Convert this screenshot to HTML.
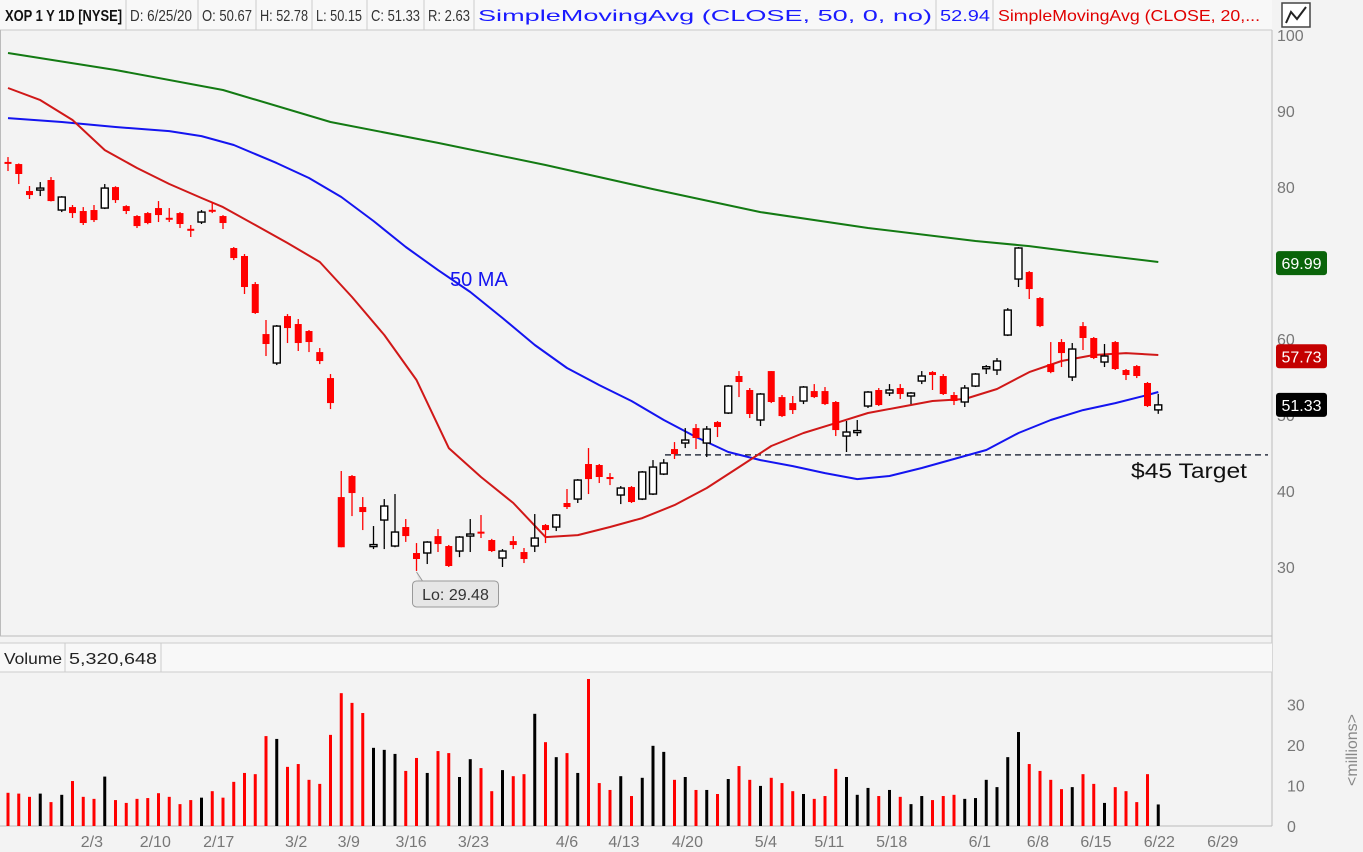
<!DOCTYPE html>
<html><head><meta charset="utf-8"><style>
body{margin:0;width:1363px;height:852px;overflow:hidden;background:#f3f3f3;font-family:"Liberation Sans",sans-serif}
svg{position:absolute;left:0;top:0}
</style></head><body>
<svg id="c" width="1363" height="852" font-family="Liberation Sans, sans-serif">
<rect x="0" y="0" width="1363" height="852" fill="#f3f3f3"/>
<g>
<rect x="0" y="0" width="1272" height="30" fill="#f8f8f8"/>
<line x1="0" y1="30" x2="1272" y2="30" stroke="#c8c8c8"/>
<text x="5" y="21" font-size="16" font-weight="bold" fill="#111" textLength="117" lengthAdjust="spacingAndGlyphs">XOP 1 Y 1D [NYSE]</text>
<line x1="126" y1="0" x2="126" y2="30" stroke="#ccc"/>
<text x="130" y="21" font-size="16" fill="#333" textLength="62" lengthAdjust="spacingAndGlyphs">D: 6/25/20</text>
<line x1="198" y1="0" x2="198" y2="30" stroke="#ccc"/>
<text x="202" y="21" font-size="16" fill="#333" textLength="50" lengthAdjust="spacingAndGlyphs">O: 50.67</text>
<line x1="256" y1="0" x2="256" y2="30" stroke="#ccc"/>
<text x="260" y="21" font-size="16" fill="#333" textLength="48" lengthAdjust="spacingAndGlyphs">H: 52.78</text>
<line x1="312" y1="0" x2="312" y2="30" stroke="#ccc"/>
<text x="316" y="21" font-size="16" fill="#333" textLength="46" lengthAdjust="spacingAndGlyphs">L: 50.15</text>
<line x1="367" y1="0" x2="367" y2="30" stroke="#ccc"/>
<text x="371" y="21" font-size="16" fill="#333" textLength="49" lengthAdjust="spacingAndGlyphs">C: 51.33</text>
<line x1="424" y1="0" x2="424" y2="30" stroke="#ccc"/>
<text x="428" y="21" font-size="16" fill="#333" textLength="42" lengthAdjust="spacingAndGlyphs">R: 2.63</text>
<line x1="474" y1="0" x2="474" y2="30" stroke="#ccc"/>
<text x="478" y="21" font-size="16" fill="#1a1aff" textLength="454" lengthAdjust="spacingAndGlyphs">SimpleMovingAvg (CLOSE, 50, 0, no)</text>
<line x1="936" y1="0" x2="936" y2="30" stroke="#ccc"/>
<text x="940" y="21" font-size="16" fill="#1a1aff" textLength="50" lengthAdjust="spacingAndGlyphs">52.94</text>
<line x1="993" y1="0" x2="993" y2="30" stroke="#ccc"/>
<text x="998" y="21" font-size="16" fill="#e00000" textLength="262" lengthAdjust="spacingAndGlyphs">SimpleMovingAvg (CLOSE, 20,...</text>
</g>
<g>
<rect x="1282" y="3" width="28" height="24" fill="#fff" stroke="#444" stroke-width="1.5"/>
<path d="M1286 23 L1291 12 L1297 19 L1306 7" fill="none" stroke="#222" stroke-width="2"/>
</g>
<line x1="0.5" y1="30" x2="0.5" y2="636" stroke="#bbb"/>
<line x1="1272" y1="30" x2="1272" y2="826" stroke="#bbb"/>
<line x1="0" y1="636" x2="1272" y2="636" stroke="#bbb"/>
<g>
<rect x="0" y="643" width="1272" height="29" fill="#f8f8f8"/>
<line x1="0" y1="643" x2="1272" y2="643" stroke="#ccc"/>
<line x1="0" y1="672" x2="1272" y2="672" stroke="#ccc"/>
<line x1="65" y1="643" x2="65" y2="672" stroke="#ccc"/>
<line x1="161" y1="643" x2="161" y2="672" stroke="#ccc"/>
<text x="4" y="664" font-size="16" fill="#222" textLength="58" lengthAdjust="spacingAndGlyphs">Volume</text>
<text x="69" y="664" font-size="16" fill="#222" textLength="88" lengthAdjust="spacingAndGlyphs">5,320,648</text>
</g>
<line x1="0" y1="826" x2="1272" y2="826" stroke="#bbb"/>
<g id="plot"></g>
</svg>
<script>
const priceTicks=[100,90,80,60,50,40,30];
const volTicks=[30,20,10,0];
const dateLabels=["2/3","2/10","2/17","3/2","3/9","3/16","3/23","4/6","4/13","4/20","5/4","5/11","5/18","6/1","6/8","6/15","6/22","6/29"];
const dateIdx=[7.8,13.7,19.6,26.8,31.7,37.5,43.3,52,57.3,63.2,70.5,76.4,82.2,90.4,95.8,101.2,107.1,113];
const opens=[83.3,83.02,79.47,79.6,80.92,76.97,77.36,76.84,76.97,77.23,79.99,77.49,76.18,76.57,77.23,75.95,76.57,74.5,75.39,77.0,76.18,71.97,70.92,67.23,60.65,56.84,63.02,61.97,61.05,58.28,54.86,39.2,41.97,37.89,32.85,36.18,32.76,35.26,31.84,31.84,34.07,32.76,32.1,34.07,34.65,33.55,31.18,33.41,31.97,32.76,35.52,35.26,38.42,38.94,43.55,43.42,41.84,39.47,40.52,38.94,39.6,42.23,45.52,46.31,48.28,46.31,49.07,50.26,55.13,53.29,49.34,55.78,52.36,51.57,51.84,53.15,53.15,51.71,47.23,47.85,51.18,53.29,52.89,53.55,52.5,54.47,55.65,55.13,52.63,51.71,53.81,56.27,55.92,60.52,67.89,68.81,65.39,56.7,59.6,55.0,61.7,60.13,56.97,59.6,55.92,56.44,54.21,50.67];
const highs=[83.94,83.1,80.13,80.65,81.31,78.8,77.63,77.36,77.63,80.39,80.1,77.6,76.3,76.7,78.15,77.23,76.7,75.0,76.97,78.02,76.3,72.1,71.18,67.49,62.5,61.84,63.28,62.63,61.18,58.81,55.39,42.63,42.1,39.2,35.39,38.94,39.6,36.31,33.15,33.4,34.99,32.9,34.07,36.31,36.84,33.7,32.36,34.07,32.5,36.97,35.65,36.97,40.26,41.57,45.65,43.55,42.36,40.65,40.65,42.63,44.07,44.2,46.44,48.28,48.81,48.55,49.2,53.94,55.78,53.55,52.89,55.78,52.63,52.5,53.81,54.07,53.68,51.84,49.21,49.34,53.15,53.55,54.07,54.07,53.02,55.78,55.78,55.39,53.02,53.94,55.52,56.57,57.5,64.07,72.1,68.94,65.52,59.6,59.99,59.47,62.23,60.26,59.34,59.73,56.05,56.57,54.34,52.78];
const lows=[82.1,80.39,78.42,78.81,78.1,76.7,75.92,75.0,75.39,77.1,77.9,76.44,74.6,75.1,75.39,75.39,74.6,73.42,75.13,76.57,74.47,70.39,65.92,63.3,57.76,56.57,59.47,58.42,58.28,56.7,50.78,32.6,36.7,34.86,32.36,32.36,32.6,33.3,29.48,30.39,31.97,30.0,31.3,31.97,33.81,31.97,30.0,32.36,30.52,31.97,33.15,34.73,37.63,38.42,39.6,41.05,40.78,38.28,38.42,38.81,39.47,42.1,44.21,45.65,45.52,44.47,47.1,50.13,52.36,49.6,48.55,51.57,49.73,50.13,51.44,52.23,51.31,47.23,45.13,47.23,50.92,51.18,52.5,52.1,51.44,54.07,53.29,52.63,51.31,51.05,53.68,55.39,55.26,60.39,66.84,65.26,61.57,55.5,56.31,54.47,58.55,57.36,56.31,55.92,54.6,54.86,51.05,50.15];
const closes=[83.2,81.71,78.94,79.86,78.15,78.68,76.57,75.26,75.65,79.86,78.28,76.84,74.86,75.26,76.31,75.9,75.13,74.45,76.7,76.95,75.26,70.65,66.84,63.42,59.34,61.7,61.44,59.47,59.6,57.1,51.57,32.6,39.73,37.23,32.95,38.02,34.6,34.07,31.05,33.28,33.02,30.13,33.94,34.34,34.55,32.1,32.1,32.89,31.05,33.81,34.86,36.84,37.89,41.44,41.57,41.84,41.57,40.39,38.55,42.5,43.15,43.68,44.86,46.71,46.97,48.15,48.42,53.81,54.34,50.13,52.76,51.71,49.86,50.65,53.68,52.36,51.44,48.02,47.76,47.95,53.02,51.31,53.29,52.76,52.89,55.13,55.26,52.76,51.84,53.55,55.39,56.35,57.1,63.81,71.97,66.57,61.7,55.65,58.15,58.68,60.13,57.5,57.76,56.05,55.26,55.13,51.18,51.33];
const volumes=[8.2,8.0,7.2,8.0,5.9,7.7,11.1,7.2,6.7,12.2,6.4,5.7,6.7,6.9,8.1,7.2,5.4,6.4,7.0,8.6,7.0,10.9,13.1,12.8,22.2,21.5,14.6,15.3,11.4,10.4,22.5,32.8,30.4,27.9,19.3,18.8,17.8,13.6,16.8,13.1,18.5,18.0,12.1,16.5,14.3,8.6,13.8,12.3,12.8,27.7,20.7,17.0,18.0,13.1,36.3,10.6,8.9,12.3,7.4,11.9,19.8,18.3,11.4,12.1,8.9,8.9,7.9,11.6,14.8,11.4,9.9,11.9,10.6,8.6,7.9,6.7,7.4,14.1,12.1,7.7,9.4,7.4,8.9,7.2,5.4,7.4,6.4,7.4,7.7,6.7,6.9,11.4,9.6,17.0,23.2,15.3,13.6,11.4,9.1,9.6,12.8,10.4,5.7,9.6,8.6,5.9,12.8,5.32];
const sma200Idx=[0,10,20,30,40,50,60,70,80,90,95,100,107];
const sma200=[97.63,95.4,92.76,88.55,85.8,82.89,79.73,76.7,74.6,72.89,72.23,71.31,70.13];
const sma50Idx=[0,5,10,15,18,21,25,28,31,34,37,40,43,46,49,52,55,58,61,64,67,70,73,76,79,82,85,88,91,94,97,100,103,106,107];
const sma50=[89.07,88.55,87.89,87.36,86.7,85.52,83.15,81.18,78.68,75.52,72.1,69.07,66.18,62.76,59.21,56.18,53.94,51.84,49.34,47.1,45.13,44.07,43.28,42.36,41.57,41.97,43.02,44.21,45.39,47.63,49.34,50.65,51.57,52.63,53.02];
const sma20Idx=[0,3,6,9,12,15,18,20,23,26,29,32,35,38,41,44,47,50,53,56,59,62,65,68,71,74,77,80,83,86,89,92,95,98,101,104,107];
const sma20=[93.02,91.44,88.81,84.86,82.5,80.39,78.55,77.36,75.0,72.63,70.13,65.52,60.52,54.6,45.65,41.84,38.42,33.94,34.2,35.26,36.44,38.15,40.39,43.15,45.92,47.63,48.94,50.26,51.05,51.84,52.1,53.42,55.65,57.1,57.89,58.15,57.89];
const targetPrice=44.75;
const lowIndex=38;

const NS="http://www.w3.org/2000/svg";
const g=document.getElementById('plot');
const X=i=>8+i*10.75;
const Y=p=>35+(100-p)*7.6;
const VY=v=>826-v*4.05;
function mk(t,a){const e=document.createElementNS(NS,t);for(const k in a)e.setAttribute(k,a[k]);g.appendChild(e);return e;}

priceTicks.forEach(p=>{const t=mk('text',{x:1277,y:Y(p)+6,'font-size':16,fill:'#777'});t.textContent=p;

});
volTicks.forEach(v=>{const t=mk('text',{x:1287,y:VY(v)+6,'font-size':16,fill:'#777'});t.textContent=v;

});
dateLabels.forEach((d,k)=>{const t=mk('text',{x:X(dateIdx[k]),y:847,'font-size':16,fill:'#777','text-anchor':'middle'});t.textContent=d;

});
const ml=mk('text',{x:1357,y:750,'font-size':16,fill:'#888','text-anchor':'middle',transform:'rotate(-90 1357 750)'});ml.textContent='<millions>';



const tl=mk('line',{x1:665,y1:Y(targetPrice),x2:1268,y2:Y(targetPrice),stroke:'#2e3546','stroke-width':1.5,'stroke-dasharray':'6,4'});



function line(idx,vals,col,name){const d=idx.map((i,k)=>(k?'L':'M')+X(i).toFixed(1)+' '+Y(vals[k]).toFixed(1)).join(' ');
const p=mk('path',{d:d,fill:'none',stroke:col,'stroke-width':2,'stroke-linejoin':'round'});

}
line(sma200Idx,sma200,'#137a13','sma200-line');
line(sma50Idx,sma50,'#1414f0','sma50-line');
line(sma20Idx,sma20,'#d01818','sma20-line');

opens.forEach((o,i)=>{const c=closes[i],up=c>o,col=up?'#000':'#f00',x=X(i);
const w=mk('line',{x1:x,y1:Y(highs[i]),x2:x,y2:Y(lows[i]),stroke:col,'stroke-width':1.3});


const top=Y(Math.max(o,c)),h=Math.max(2,Y(Math.min(o,c))-top);
const b=up?mk('rect',{x:x-3.5,y:top,width:7,height:h,fill:'#fff',stroke:'#000','stroke-width':1.4}):mk('rect',{x:x-3.5,y:top,width:7,height:h,fill:'#f00'});


const v=mk('rect',{x:x-1.5,y:VY(volumes[i]),width:3,height:826-VY(volumes[i]),fill:up?'#000':'#f00'});

});

const lx=X(lowIndex),ly=Y(lows[lowIndex]);
const cp=mk('path',{d:`M${lx} ${ly+1} L${lx+6} ${ly+10} L${lx+2} ${ly+10}`,fill:'#e6e6e6',stroke:'#999'});


const cb=mk('rect',{x:lx-4,y:ly+10,width:86,height:26,rx:4,fill:'#e6e6e6',stroke:'#999'});


const ct=mk('text',{x:lx+39,y:ly+29,'font-size':16,fill:'#333','text-anchor':'middle'});ct.textContent='Lo: '+lows[lowIndex].toFixed(2);



const a1=mk('text',{x:450,y:286,'font-size':20,fill:'#1414f0'});a1.textContent='50 MA';


const a2=mk('text',{x:1131,y:478,'font-size':21,fill:'#111',textLength:116,lengthAdjust:'spacingAndGlyphs'});a2.textContent='$45 Target';



function badge(v,col,name){const y=Y(v);const r=mk('rect',{x:1276,y:y-12,width:51,height:24,rx:3,fill:col});


const t=mk('text',{x:1301.5,y:y+6,'font-size':16,fill:'#fff','text-anchor':'middle'});t.textContent=v.toFixed(2);

}
badge(69.99,'#0a640a','sma200-badge');
badge(57.73,'#c40000','sma20-badge');
badge(closes[closes.length-1],'#000','close-badge');
</script>
</body></html>
